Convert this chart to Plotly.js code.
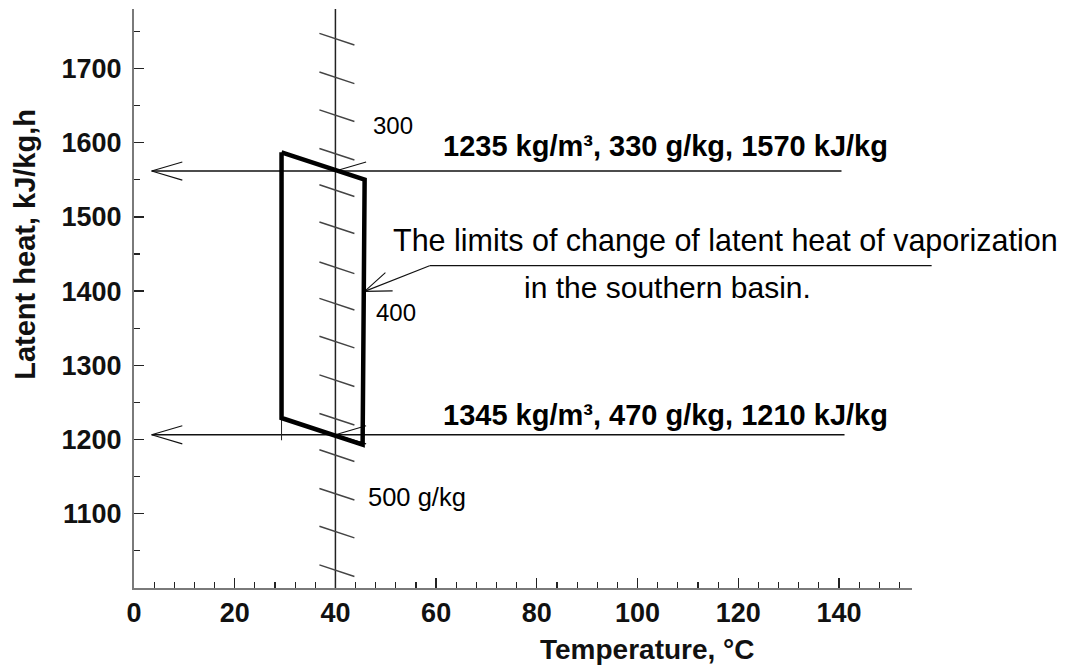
<!DOCTYPE html>
<html><head><meta charset="utf-8">
<script src="https://cdn.plot.ly/plotly-3.0.1.min.js"></script>
<style>html,body{margin:0;padding:0;background:#fff}</style>
</head><body>
<div id="chart" style="width:1070px;height:665px"></div>
<script>
// ---------------- data ----------------
const xTickVals = [0, 20, 40, 60, 80, 100, 120, 140];
const yTickVals = [1100, 1200, 1300, 1400, 1500, 1600, 1700];

// box: limits of change of latent heat in the southern basin
const boxTemp = [29.3, 45.8, 45.4, 29.3, 29.3];
const boxHeat = [1587, 1550, 1193, 1229, 1587];
const boxStemTemp = [29.3, 29.3];
const boxStemHeat = [1229, 1199];

// vertical concentration scale (g/kg) drawn at 40 °C
const scaleTemp = [40, 40];
const scaleHeat = [1000, 1780];
const hatchConc = [260, 280, 300, 320, 340, 360, 380, 400, 420, 440, 460, 480, 500, 520, 540];
const hatchHeat = [1740, 1688, 1637, 1585, 1536, 1486, 1432, 1383, 1332, 1280, 1228, 1179, 1127, 1076, 1024];
const hatchLabelConc = [300, 400, 500];

// reference states
const refDensity = [1235, 1345];
const refConc = [330, 470];
const refHeatLabel = [1570, 1210];
const refLineHeat = [1561.7, 1206.4];
const refLineStart = [3.5, 3.5];
const refLineEnd = [140.5, 141.1];

// callout
const calloutText = ['The limits of change of latent heat of vaporization', 'in the southern basin.'];
const calloutTip = [45.8, 1399.6];
const calloutKnee = [58.7, 1434.2];
const calloutEndTemp = 158.4;

// ---------------- layout geometry ----------------
const W = 1070, H = 665;
const M = {l: 134, r: 158, t: 9, b: 77};
const xRange = [0, 154.5];
const yRange = [1000, 1780];
const kx = (W - M.l - M.r) / (xRange[1] - xRange[0]);
const ky = (H - M.t - M.b) / (yRange[1] - yRange[0]);
const xFrac = v => (v - xRange[0]) / (xRange[1] - xRange[0]);

function head(tx, ty, fx, fy, lenPx, halfDeg) {
  const dx = (fx - tx) * kx, dy = (fy - ty) * ky;
  const a = Math.atan2(dy, dx), h = halfDeg * Math.PI / 180;
  const e = s => [tx + Math.cos(a + s * h) * lenPx / kx, ty + Math.sin(a + s * h) * lenPx / ky];
  const p1 = e(1), p2 = e(-1);
  return {x: [p1[0], tx, p2[0], null], y: [p1[1], ty, p2[1], null]};
}

// hatch marks crossing the scale line
const hx = [], hy = [];
hatchHeat.forEach(v => {
  const c = scaleTemp[0];
  hx.push(c - 16 / kx, c + 19 / kx, null);
  hy.push(v + 5.3 / ky, v - 6.3 / ky, null);
});

// reference lines + arrowheads
const rx = [], ry = [], ax = [], ay = [];
refLineHeat.forEach((h, i) => {
  rx.push(refLineStart[i], refLineEnd[i], null);
  ry.push(h, h, null);
  const a1 = head(refLineStart[i], h, refLineEnd[i], h, 32, 16.5);
  const a2 = head(scaleTemp[0], h, refLineEnd[i], h, 32, 16.5);
  ax.push(...a1.x, ...a2.x); ay.push(...a1.y, ...a2.y);
});
const a3 = head(calloutTip[0], calloutTip[1], calloutKnee[0], calloutKnee[1], 28, 20.5);
ax.push(...a3.x); ay.push(...a3.y);

const line = (x, y, w, c) => ({x, y, type: 'scatter', mode: 'lines', line: {color: c, width: w}, hoverinfo: 'skip', showlegend: false});

const data = [
  line(scaleTemp, scaleHeat, 1.5, '#222'),
  line(hx, hy, 1.5, '#444'),
  line(rx, ry, 1.5, '#111'),
  line(ax, ay, 1.1, '#111'),
  line([calloutKnee[0], calloutTip[0]], [calloutKnee[1], calloutTip[1]], 1.1, '#111'),
  line(boxStemTemp, boxStemHeat, 1, '#222'),
  line(boxTemp, boxHeat, 4.5, '#000')
];

const FAM = '"Liberation Sans", Arial, Helvetica, sans-serif';
const ann = [];
refLineHeat.forEach((h, i) => {
  ann.push({
    x: 105.6, y: i === 0 ? 1595 : 1233, xref: 'x', yref: 'y', showarrow: false,
    text: refDensity[i] + ' kg/m³, ' + refConc[i] + ' g/kg, ' + refHeatLabel[i] + ' kJ/kg',
    font: {family: FAM, size: 29, color: '#000', weight: 'bold'}, xanchor: 'center', yanchor: 'middle'
  });
});
ann.push({x: 117.5, y: 1468, xref: 'x', yref: 'y', showarrow: false, text: calloutText[0],
  font: {family: FAM, size: 30.5, color: '#000'}, xanchor: 'center', yanchor: 'middle'});
ann.push({x: 105.9, y: 1404.6, xref: 'x', yref: 'y', showarrow: false, text: calloutText[1],
  font: {family: FAM, size: 30, color: '#000'}, xanchor: 'center', yanchor: 'middle'});
const hlPos = [[51.5, 1622.9], [52.1, 1371.5], [56.2, 1122]];
const hlSize = [24, 24, 25.5];
hatchLabelConc.forEach((c, i) => {
  ann.push({x: hlPos[i][0], y: hlPos[i][1], xref: 'x', yref: 'y', showarrow: false,
    text: c + (i === hatchLabelConc.length - 1 ? ' g/kg' : ''),
    font: {family: FAM, size: hlSize[i], color: '#000'}, xanchor: 'center', yanchor: 'middle'});
});
// axis titles
ann.push({x: 102, y: -0.1054, xref: 'x', yref: 'paper', showarrow: false, text: 'Temperature, °C',
  font: {family: FAM, size: 28, color: '#111', weight: 'bold'}, xanchor: 'center', yanchor: 'middle'});
ann.push({x: -0.140, y: 1462.5, xref: 'paper', yref: 'y', showarrow: false, text: 'Latent heat, kJ/kg,h',
  textangle: -90, font: {family: FAM, size: 29, color: '#111', weight: 'bold'}, xanchor: 'center', yanchor: 'middle'});

// underline of the callout text (runs past the plot area, so paper x)
const shapes = [{
  type: 'line', xref: 'paper', yref: 'y',
  x0: xFrac(calloutKnee[0]), x1: xFrac(calloutEndTemp), y0: calloutKnee[1], y1: calloutKnee[1],
  line: {color: '#111', width: 1.3}
}];

const layout = {
  width: W, height: H, margin: M,
  paper_bgcolor: '#fff', plot_bgcolor: '#fff',
  showlegend: false, hovermode: false,
  xaxis: {
    range: xRange, showgrid: false, zeroline: false,
    showline: true, linecolor: '#7a7a7a', linewidth: 2,
    tickmode: 'array', tickvals: xTickVals, ticks: 'inside', ticklen: 10, tickwidth: 1.3, tickcolor: '#222',
    minor: {tickmode: 'linear', tick0: 0, dtick: 4, ticks: 'inside', ticklen: 6, tickwidth: 1.2, tickcolor: '#222'},
    tickfont: {family: FAM, size: 27, color: '#111', weight: 'bold'},
    ticklabelstandoff: 0
  },
  yaxis: {
    range: yRange, showgrid: false, zeroline: false,
    showline: true, linecolor: '#7a7a7a', linewidth: 2,
    tickmode: 'array', tickvals: yTickVals, ticks: 'inside', ticklen: 10, tickwidth: 1.3, tickcolor: '#222',
    minor: {tickmode: 'linear', tick0: 1000, dtick: 50, ticks: 'inside', ticklen: 6, tickwidth: 1.2, tickcolor: '#222'},
    tickfont: {family: FAM, size: 27, color: '#111', weight: 'bold'},
    ticklabelstandoff: 5
  },
  shapes: shapes,
  annotations: ann
};

Plotly.newPlot('chart', data, layout, {staticPlot: true, displayModeBar: false});
</script>
</body></html>
